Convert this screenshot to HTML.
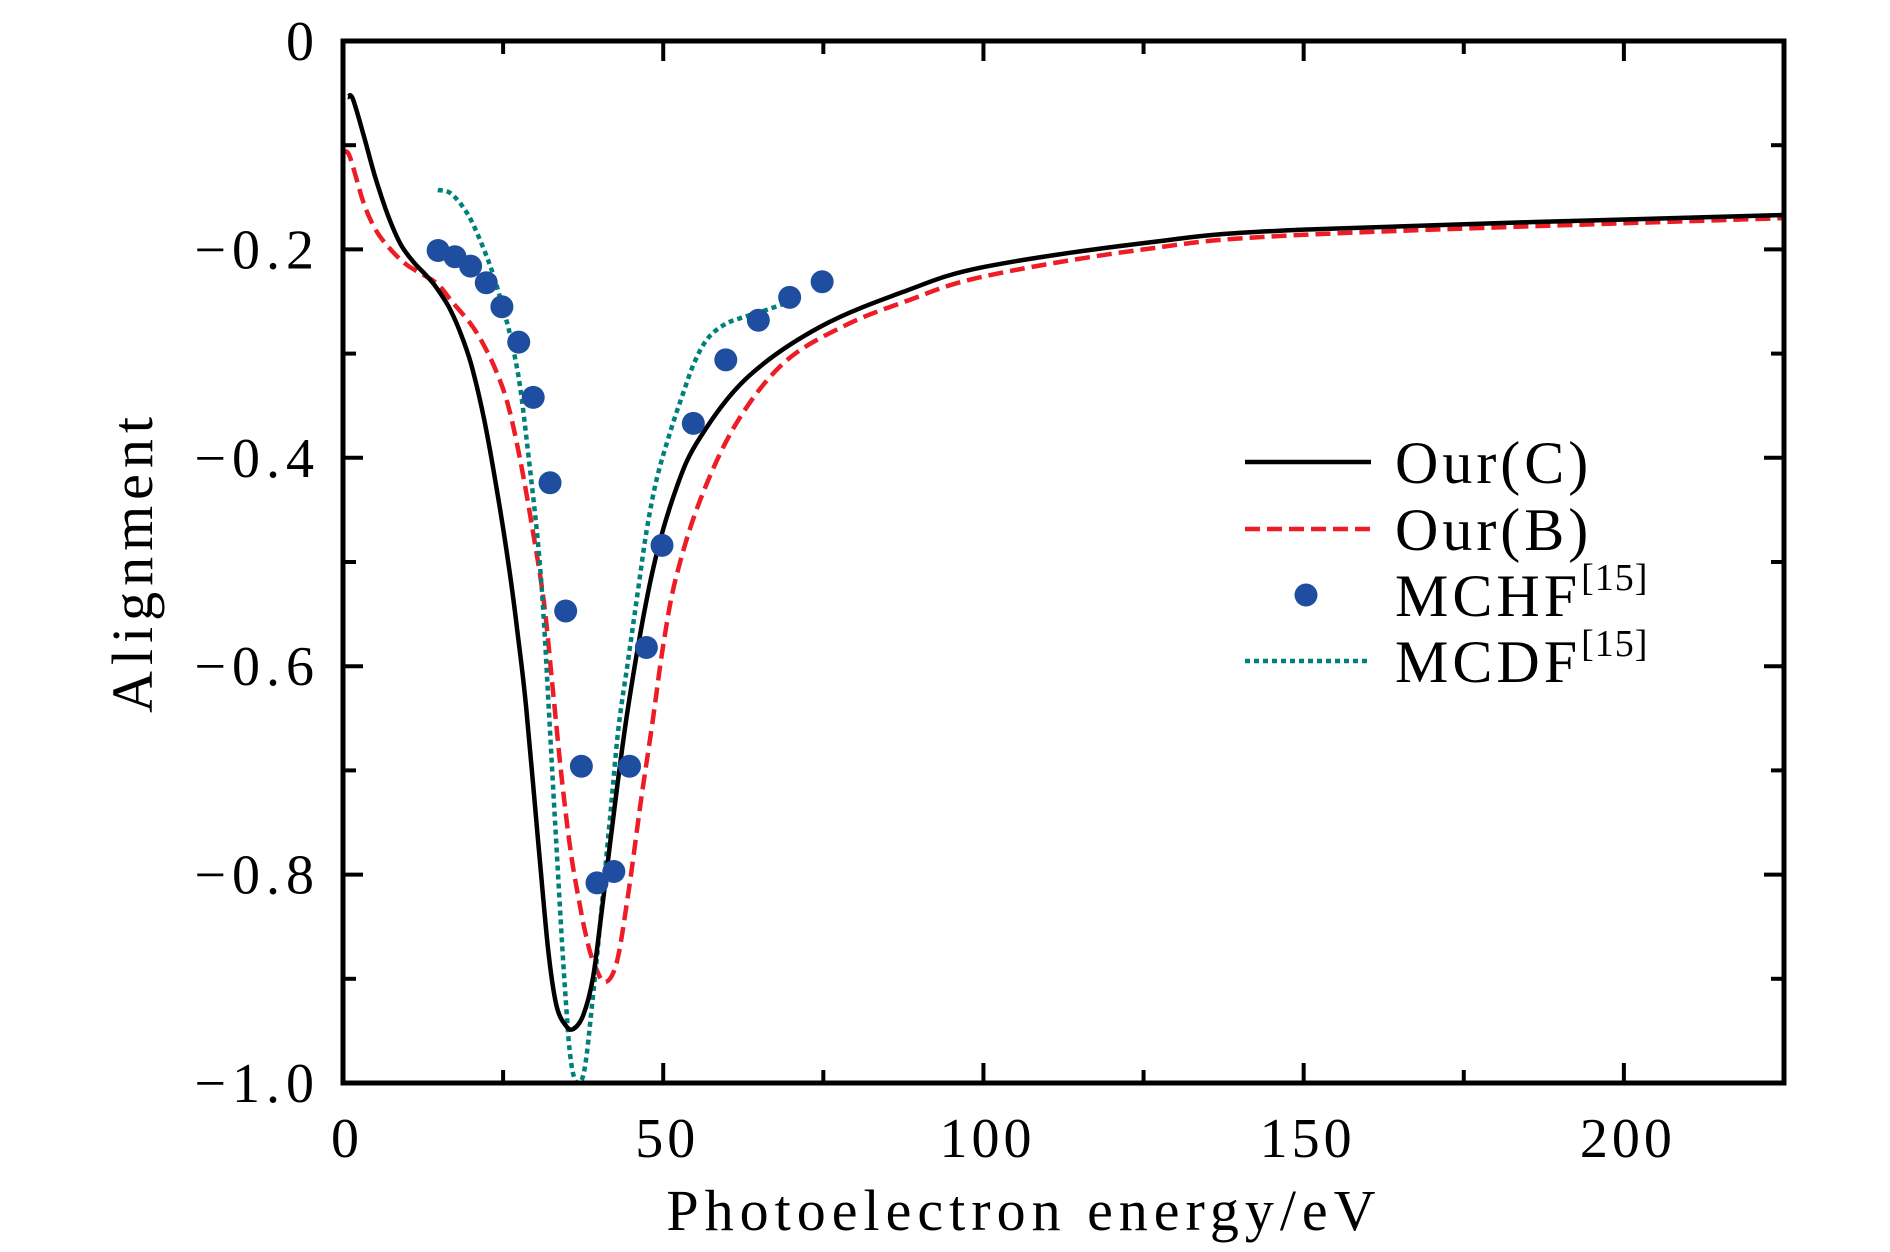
<!DOCTYPE html>
<html><head><meta charset="utf-8"><style>
html,body{margin:0;padding:0;background:#fff}
svg{display:block}
text{font-family:"Liberation Serif",serif;fill:#000}
</style></head><body>
<svg id="chart" width="1890" height="1252" viewBox="0 0 1890 1252" xmlns="http://www.w3.org/2000/svg">
<g id="marks"></g>
<g id="axes"></g>
<g id="legend"></g>
</svg>
<script>
const ourCX=[0.75,1.5,3.2,5,7,9,11,13,14.5,16.5,18.2,20,22,24,25.8,27.3,28.6,30.5,32,33.3,34.8,36,37.5,39,40.3,41.7,44.5,48.3,52,55.8,63.3,74.6,87.8,100,125,150,225];
const ourCY=[-0.054,-0.055,-0.09,-0.13,-0.167,-0.195,-0.212,-0.225,-0.236,-0.255,-0.278,-0.31,-0.362,-0.43,-0.5,-0.57,-0.64,-0.77,-0.87,-0.925,-0.945,-0.948,-0.935,-0.9,-0.84,-0.77,-0.64,-0.51,-0.43,-0.38,-0.322,-0.274,-0.24,-0.217,-0.194,-0.181,-0.167];
const ourBX=[0,1,3.2,5,7,10,14.5,17,20,22,24,25.8,27.6,29.5,31.4,32.8,34.2,35.6,37,38,39,40.8,42.7,44.5,46.5,48.3,50,52,55.8,61.5,69,78.4,87.8,100,125,150,225];
const ourBY=[-0.108,-0.11,-0.155,-0.18,-0.197,-0.215,-0.232,-0.25,-0.272,-0.292,-0.318,-0.35,-0.4,-0.465,-0.54,-0.625,-0.71,-0.78,-0.83,-0.86,-0.882,-0.903,-0.885,-0.82,-0.73,-0.655,-0.58,-0.515,-0.44,-0.366,-0.308,-0.273,-0.25,-0.226,-0.2,-0.186,-0.17];
const mcdfX=[14.8,16.5,18.2,20,22,23.5,24.8,26.2,27.6,29,30.5,31.4,32.3,33.3,34.2,35,35.5,36.1,36.7,37.4,38,38.8,39.8,41.7,43,44.5,46,47.4,49,51.1,53,54.9,57,59.6,62,65.2,69.9];
const mcdfY=[-0.143,-0.145,-0.155,-0.172,-0.2,-0.225,-0.252,-0.285,-0.33,-0.4,-0.485,-0.56,-0.66,-0.77,-0.865,-0.94,-0.975,-0.995,-1.0,-0.995,-0.975,-0.93,-0.87,-0.745,-0.66,-0.595,-0.53,-0.47,-0.42,-0.375,-0.34,-0.308,-0.285,-0.272,-0.266,-0.26,-0.25];
const mchfX=[14.85,17.48,19.92,22.37,24.81,27.44,29.7,32.33,34.77,37.22,39.66,42.29,44.74,47.37,49.81,54.7,59.77,64.85,69.74,74.81];
const mchfY=[-0.201,-0.207,-0.216,-0.232,-0.255,-0.289,-0.342,-0.424,-0.547,-0.696,-0.808,-0.797,-0.696,-0.582,-0.484,-0.367,-0.306,-0.268,-0.246,-0.231];
const xTicks=[0,50,100,150,200];
const yTicks=[0,-0.2,-0.4,-0.6,-0.8,-1.0];
const yTickLabels=["0","\u22120.2","\u22120.4","\u22120.6","\u22120.8","\u22121.0"];

const L=343,R=1784,T=41,B=1083,XMAX=225;
const sx=v=>L+(v/XMAX)*(R-L);
const sy=v=>T+(-v)*(B-T);
const NS="http://www.w3.org/2000/svg";
function mk(tag,attrs,parent){const e=document.createElementNS(NS,tag);for(const k in attrs)e.setAttribute(k,attrs[k]);parent.appendChild(e);return e;}
const marks=document.getElementById('marks'),axes=document.getElementById('axes'),leg=document.getElementById('legend');
function smoothPath(xs,ys){
  const P=xs.map((x,i)=>[sx(x),sy(ys[i])]);
  let d='M'+P[0][0].toFixed(1)+' '+P[0][1].toFixed(1);
  for(let i=0;i<P.length-1;i++){
    const p0=P[Math.max(0,i-1)],p1=P[i],p2=P[i+1],p3=P[Math.min(P.length-1,i+2)];
    const c1=[p1[0]+(p2[0]-p0[0])/6,p1[1]+(p2[1]-p0[1])/6];
    const c2=[p2[0]-(p3[0]-p1[0])/6,p2[1]-(p3[1]-p1[1])/6];
    d+=' C'+c1.map(v=>v.toFixed(1)).join(' ')+' '+c2.map(v=>v.toFixed(1)).join(' ')+' '+p2.map(v=>v.toFixed(1)).join(' ');
  }
  return d;
}
function line(xs,ys,color,dash,name,w){
  const p=mk('path',{d:smoothPath(xs,ys),fill:'none',stroke:color,'stroke-width':w,'stroke-dasharray':dash,'stroke-linejoin':'round'},marks);
  
  
}
line(ourBX,ourBY,'#ee1c24','15 7','our-b-line',4.5);
line(mcdfX,mcdfY,'#00807a','5 4','mcdf-line',4.5);
line(ourCX,ourCY,'#000','none','our-c-line',4.5);
mchfX.forEach((x,i)=>{
  const c=mk('circle',{cx:sx(x),cy:sy(mchfY[i]),r:11.5,fill:'#1f4ea1'},marks);
  
  
});
const fr=mk('rect',{x:L,y:T,width:R-L,height:B-T,fill:'none',stroke:'#000','stroke-width':5},axes);


for(let v=0;v<=XMAX;v+=25){
  const len=v%50===0?20:13;
  mk('line',{x1:sx(v),x2:sx(v),y1:B,y2:B-len,stroke:'#000','stroke-width':4},axes);
  mk('line',{x1:sx(v),x2:sx(v),y1:T,y2:T+len,stroke:'#000','stroke-width':4},axes);
}
for(let k=0;k<=10;k++){
  const v=-k/10;const len=k%2===0?20:13;
  mk('line',{x1:L,x2:L+len,y1:sy(v),y2:sy(v),stroke:'#000','stroke-width':4},axes);
  mk('line',{x1:R,x2:R-len,y1:sy(v),y2:sy(v),stroke:'#000','stroke-width':4},axes);
}
xTicks.forEach(v=>{
  const t=mk('text',{x:sx(v)+4,y:1157,'text-anchor':'middle','font-size':56,'letter-spacing':4},axes);
  t.textContent=v;
  
  
});
yTicks.forEach((v,i)=>{
  const t=mk('text',{x:320,y:sy(v)+19,'text-anchor':'end','font-size':56,'letter-spacing':6},axes);
  t.textContent=yTickLabels[i];
  
  
});
const xt=mk('text',{x:1024,y:1230,'text-anchor':'middle','font-size':58,'letter-spacing':6},axes);
xt.textContent='Photoelectron energy/eV';


const yt=mk('text',{x:0,y:0,'text-anchor':'middle','font-size':58,'letter-spacing':6,transform:'translate(152,562) rotate(-90)'},axes);
yt.textContent='Alignment';


const entries=[['Our(C)','#000','none',462],['Our(B)','#ee1c24','15 7',529],['MCHF','#1f4ea1','dot',595],['MCDF','#00807a','5 4',661]];
entries.forEach(e=>{
  const g=mk('g',{},leg);
  
  
  if(e[2]==='dot') mk('circle',{cx:1306,cy:e[3],r:11.5,fill:e[1]},g);
  else mk('line',{x1:1245,x2:1371,y1:e[3],y2:e[3],stroke:e[1],'stroke-width':4.5,'stroke-dasharray':e[2]},g);
  const t=mk('text',{x:1395,y:e[3]+21,'font-size':60,'letter-spacing':4},g);
  t.textContent=e[0];
  if(e[0]==='MCHF'||e[0]==='MCDF'){
    const s=mk('tspan',{dy:-26,'font-size':38,'letter-spacing':1},t);
    s.textContent='[15]';
  }
});
</script>
</body></html>
